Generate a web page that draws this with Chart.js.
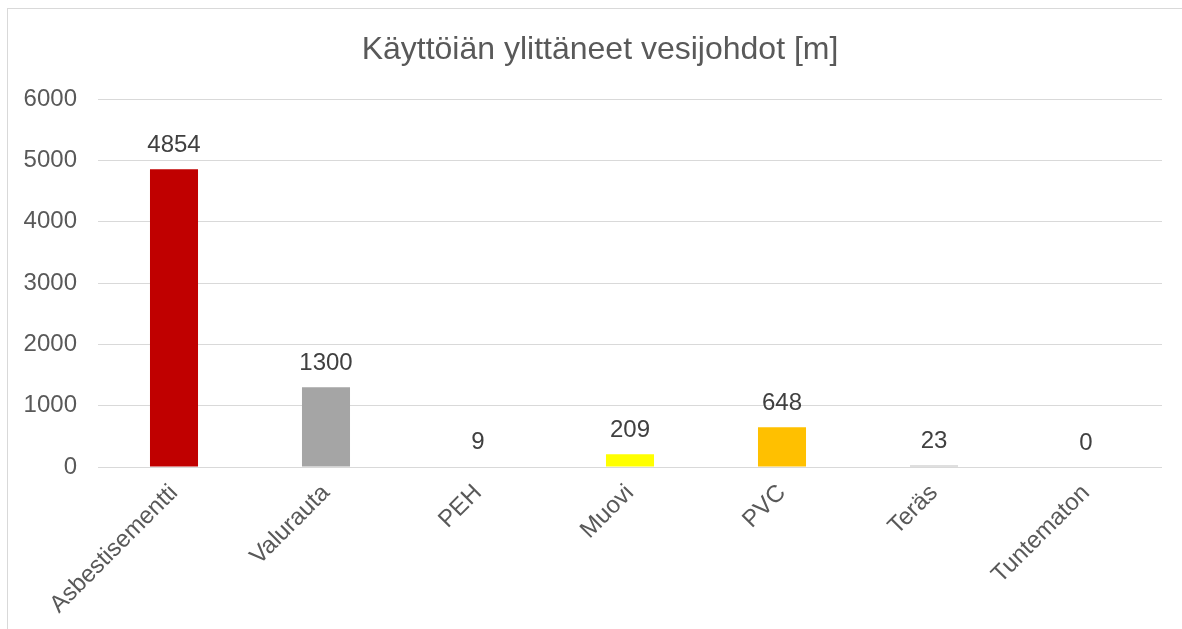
<!DOCTYPE html>
<html>
<head>
<meta charset="utf-8">
<script src="https://cdn.jsdelivr.net/npm/chart.js@4"></script>
<style>
  html, body { margin: 0; padding: 0; background: #fff; }
  #wrap { position: relative; width: 1182px; height: 629px; overflow: hidden; }
  #frame { position: absolute; left: 7px; top: 8px; width: 1300px; height: 800px; border: 1px solid #d9d9d9; }
  canvas { position: absolute; left: 0; top: 0; }
</style>
</head>
<body>
<div id="wrap">
  <div id="frame"></div>
  <canvas id="chart" width="1182" height="629"></canvas>
</div>
<script>
const categories = ["Asbestisementti", "Valurauta", "PEH", "Muovi", "PVC", "Teräs", "Tuntematon"];
const values = [4854, 1300, 9, 209, 648, 23, 0];
const barColors = ["#c00000", "#a5a5a5", "#bfbfbf", "#ffff00", "#ffc000", "#bfbfbf", "#bfbfbf"];
const chartTitle = "Käyttöiän ylittäneet vesijohdot [m]";

const fontFamily = "'Liberation Sans', Arial, sans-serif";

// value labels above each bar + title centred on the chart box
const extras = {
  id: "extras",
  afterDatasetsDraw(chart) {
    const ctx = chart.ctx;
    const meta = chart.getDatasetMeta(0);
    ctx.save();
    ctx.font = "24px " + fontFamily;
    ctx.fillStyle = "#404040";
    ctx.textAlign = "center";
    ctx.textBaseline = "middle";
    meta.data.forEach((bar, i) => {
      ctx.fillText(String(values[i]), bar.x, bar.y - 24);
    });
    ctx.font = "32px " + fontFamily;
    ctx.fillStyle = "#595959";
    ctx.fillText(chartTitle, 600, 50);
    ctx.restore();
  }
};

new Chart(document.getElementById("chart"), {
  type: "bar",
  data: {
    labels: categories,
    datasets: [{
      data: values,
      backgroundColor: barColors,
      barPercentage: 0.316,
      categoryPercentage: 1
    }]
  },
  options: {
    responsive: false,
    animation: false,
    layout: { padding: { left: 0, right: 20, top: 99, bottom: 0 } },
    plugins: {
      legend: { display: false },
      tooltip: { enabled: false },
      title: { display: false }
    },
    scales: {
      x: {
        grid: { display: false },
        border: { display: false },
        ticks: {
          color: "#595959",
          font: { family: fontFamily, size: 24 },
          minRotation: 45,
          maxRotation: 45,
          padding: 4
        },
        afterFit(scale) { scale.height = 162; }
      },
      y: {
        min: 0,
        max: 6000,
        ticks: {
          stepSize: 1000,
          color: "#595959",
          font: { family: fontFamily, size: 24 },
          padding: 21,
          callback: v => String(v)
        },
        grid: { color: "#d9d9d9", lineWidth: 1, drawTicks: false },
        border: { display: false },
        afterFit(scale) { scale.width = 98; }
      }
    }
  },
  plugins: [extras]
});
</script>
</body>
</html>
